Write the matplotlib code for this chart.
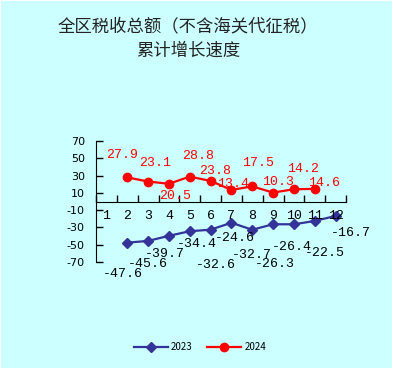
import matplotlib.pyplot as plt
import numpy as np

plt.rcParams['font.family'] = ['Noto Sans CJK SC', 'DejaVu Sans']

title_lines = ['全区税收总额（不含海关代征税）', '累计增长速度']
months = [1, 2, 3, 4, 5, 6, 7, 8, 9, 10, 11, 12]
months_2023 = [2, 3, 4, 5, 6, 7, 8, 9, 10, 11, 12]
growth_2023 = [-47.6, -45.6, -39.7, -34.4, -32.6, -24.6, -32.7, -26.3, -26.4, -22.5, -16.7]
months_2024 = [2, 3, 4, 5, 6, 7, 8, 9, 10, 11]
growth_2024 = [27.9, 23.1, 20.5, 28.8, 23.8, 13.4, 17.5, 10.3, 14.2, 14.6]
yticks = [70, 50, 30, 10, -10, -30, -50, -70]

# label offsets in pixels (dx, dy), dy positive = down
off_2023 = [(-4, 31), (0, 23), (-4, 18), (7, 13), (5, 35), (3, 15),
            (0, 25), (2, 40), (-2, 23), (10, 32), (15, 17)]
off_2024 = [(-5, -22), (7, -19), (6, 12), (8, -21), (5, -10), (2, -6),
            (6, -23), (5, -11), (9, -20), (9, -6)]

bg = '#CCFFFF'
navy = '#333399'
red = '#FF0000'
mono = 'Liberation Mono'

fig = plt.figure(figsize=(3.93, 3.69), dpi=100, facecolor=bg)
fig.patches.append(plt.Rectangle((0, 0), 1, 1, transform=fig.transFigure,
                                 fill=False, ec='white', lw=1.5))
ax = fig.add_axes([96 / 393, 1 - 262 / 369, 250 / 393, 121 / 369])
ax.set_facecolor(bg)

l1, = ax.plot(months_2023, growth_2023, color=navy, lw=1.6, marker='D',
              markersize=5.5, label='2023', clip_on=False)
l2, = ax.plot(months_2024, growth_2024, color=red, lw=1.6, marker='o',
              markersize=6, label='2024', clip_on=False)

for m, v, (dx, dy) in zip(months_2023, growth_2023, off_2023):
    ax.annotate('%.1f' % v, (m, v), xytext=(dx, -dy), textcoords='offset pixels',
                ha='center', va='center', fontsize=9.5, family=mono, color='black')
for m, v, (dx, dy) in zip(months_2024, growth_2024, off_2024):
    ax.annotate('%.1f' % v, (m, v), xytext=(dx, -dy), textcoords='offset pixels',
                ha='center', va='center', fontsize=9.5, family=mono, color=red)

ax.set_xlim(0.5, 12.5)
ax.set_ylim(-70, 70)
ax.set_yticks(yticks)
ax.set_yticklabels(['%d' % t for t in yticks], fontsize=8, family='DejaVu Sans')
ax.tick_params(axis='y', direction='in', length=5, width=1, pad=8)

ax.spines['top'].set_visible(False)
ax.spines['right'].set_visible(False)
ax.spines['bottom'].set_position(('data', 0))
ax.set_xticks(np.arange(0.5, 13, 1))
ax.set_xticklabels([])
ax.tick_params(axis='x', direction='in', length=5, width=1)
for m in months:
    ax.text(m, -17, str(m), ha='center', va='center', fontsize=9.5, family=mono)

fig.text(188 / 393, 1 - 26 / 369, title_lines[0], ha='center', va='center',
         fontsize=12.5, color='#222222')
fig.text(188 / 393, 1 - 51 / 369, title_lines[1], ha='center', va='center',
         fontsize=12.5, color='#222222')

fig.legend(handles=[l1, l2], loc='center', bbox_to_anchor=(200 / 393, 1 - 347 / 369),
           ncol=2, frameon=False, fontsize=7, handlelength=3.5, columnspacing=1.5,
           handletextpad=0.3)

fig.savefig('out.png', dpi=100, facecolor=bg)
